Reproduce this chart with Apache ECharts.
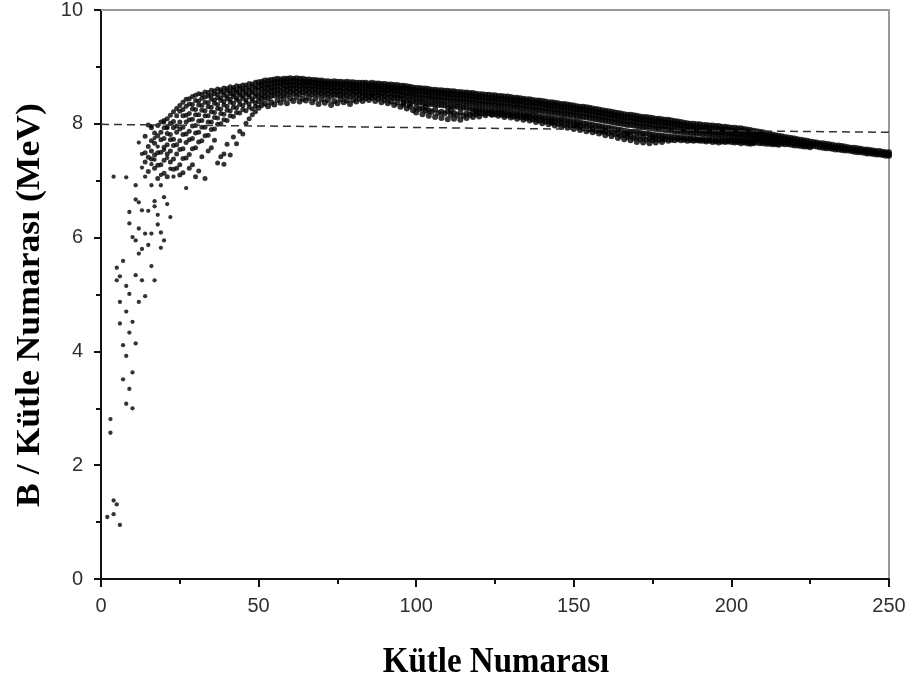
<!DOCTYPE html>
<html>
<head>
<meta charset="utf-8">
<script src="https://cdn.jsdelivr.net/npm/echarts@6/dist/echarts.min.js"></script>
<style>
html,body{margin:0;padding:0;background:#fff;}
#chart{width:913px;height:685px;}
</style>
</head>
<body>
<div id="chart"></div>
<script>
// ---- axis settings / labels ----
const xTicks = [0, 50, 100, 150, 200, 250];
const yTicks = [0, 2, 4, 6, 8, 10];
const xTitle = 'Kütle Numarası';
const yTitle = 'B / Kütle Numarası (MeV)';

// ---- dashed reference line (mass number, MeV) ----
const refLineA = [0, 250];
const refLineB = [7.99, 7.85];

// ---- lightest nuclei: [A, B/A] ----
const lightPoints = [
[2,1.09],[3,2.57],[3,2.81],[4,1.38],[5,1.31],[4,1.14],[6,0.95],[4,7.07],
[5,5.25],[5,5.47],[6,4.87],[6,4.49],[6,5.32],[7,5.59],[7,4.11],[7,3.51],
[8,7.06],[8,5.15],[8,4.70],[8,3.92],[8,3.08],[9,3.34],[10,3.00],
[9,5.01],[9,4.33],[9,6.25],[9,6.45],[10,6.01],[10,4.52],[10,3.63],
[11,6.92],[11,6.67],[11,5.95],[11,5.34],[11,4.14],[12,6.62],[12,6.16],[12,5.72],[12,4.87],[12,7.67],
[13,6.48],[13,5.80],[13,5.25],[13,7.47],[13,7.23],[14,6.07],[14,4.97],[14,7.07],
[15,6.47],[15,5.87],[16,6.92],[16,6.07],[16,5.50],[16,7.29],[16,7.96],
[17,6.64],[17,6.55],[17,5.25],[17,7.37],[17,7.75],[18,6.40],[18,6.23],[18,7.60],
[19,6.92],[19,6.09],[19,5.82],[19,7.10],[20,8.02],[20,6.71],[20,5.95],[20,7.54],
[21,6.59],[21,7.40],[21,7.92],[22,6.36],[22,7.21],[23,7.07],[27,6.87]
];

// ---- rows: [A, B/A values...] ----
const cloudRows = [
[14,7.78,7.49,7.33],
[15,7.98,7.60,7.41,7.16],
[16,7.93,7.70,7.52,7.38],
[17,7.84,7.66,7.45,7.22],
[18,7.97,7.79,7.49,7.27,7.04],
[19,8.03,7.85,7.72,7.50,7.28],
[20,8.06,7.93,7.74,7.59,7.36,7.13],
[21,8.09,7.95,7.83,7.63,7.47,7.07],
[22,8.15,8.01,7.81,7.72,7.52,7.33],
[23,8.21,8.04,7.93,7.73,7.62,7.38,7.20],
[24,8.27,8.14,7.96,7.85,7.63,7.47,7.22],
[25,8.32,8.22,8.03,7.91,7.70,7.55,7.28,7.10],
[26,8.38,8.25,8.14,7.94,7.81,7.56,7.39,7.14],
[27,8.43,8.31,8.15,8.03,7.82,7.67,7.40],
[28,8.44,8.35,8.18,8.07,7.87,7.72,7.46,7.22],
[29,8.48,8.34,8.26,8.08,7.96,7.74,7.56,7.28],
[30,8.50,8.41,8.25,8.16,7.97,7.84,7.58,7.07],
[31,8.53,8.40,8.33,8.16,8.05,7.85,7.68,7.17],
[32,8.52,8.45,8.32,8.24,8.06,7.94,7.70,7.42],
[33,8.56,8.47,8.38,8.23,8.14,7.94,7.79,7.04],
[34,8.55,8.49,8.37,8.30,8.14,8.03,7.80,7.52],
[35,8.59,8.50,8.43,8.29,8.21,8.03,7.90,7.58],
[36,8.58,8.53,8.42,8.36,8.20,8.11,7.91,7.71],
[37,8.61,8.52,8.46,8.34,8.27,8.10,7.99,7.31],
[38,8.60,8.56,8.46,8.41,8.26,8.18,8.00,7.42],
[39,8.63,8.55,8.50,8.39,8.33,8.17,8.07,7.47,7.29],
[40,8.62,8.58,8.49,8.44,8.31,8.24,8.06,7.64],
[41,8.65,8.57,8.53,8.43,8.38,8.23,8.14,7.45],
[42,8.64,8.60,8.52,8.48,8.36,8.29,8.13,7.77],
[43,8.67,8.59,8.55,8.46,8.42,8.28,8.20,7.65],
[44,8.66,8.62,8.54,8.50,8.40,8.34,8.19,7.87],
[45,8.68,8.61,8.57,8.49,8.45,8.32,8.25,7.82],
[46,8.68,8.64,8.56,8.52,8.42,8.38,8.23,8.01],
[47,8.71,8.63,8.59,8.51,8.47,8.35,8.29,8.09],
[48,8.70,8.66,8.58,8.54,8.44,8.40,8.26,8.16],
[49,8.73,8.65,8.61,8.53,8.48,8.37,8.31,8.21]
];

const band50to99 = [
[50,8.73,8.66,8.58,8.49,8.40,8.28],[51,8.74,8.68,8.61,8.52,8.44,8.33],
[52,8.76,8.70,8.62,8.55,8.47,8.36],[53,8.76,8.69,8.63,8.54,8.45,8.31],
[54,8.77,8.71,8.64,8.57,8.49,8.38],[55,8.78,8.72,8.65,8.58,8.50,8.34],
[56,8.79,8.73,8.67,8.59,8.52,8.42],[57,8.78,8.72,8.66,8.58,8.49,8.37],
[58,8.79,8.74,8.68,8.61,8.53,8.44],[59,8.79,8.73,8.67,8.60,8.51,8.36],
[60,8.80,8.74,8.68,8.62,8.55,8.45],[61,8.79,8.74,8.68,8.61,8.53,8.40],
[62,8.80,8.75,8.69,8.63,8.56,8.47],[63,8.79,8.73,8.67,8.60,8.52,8.39],
[64,8.79,8.74,8.68,8.62,8.55,8.44],[65,8.78,8.73,8.67,8.61,8.53,8.41],
[66,8.78,8.73,8.68,8.62,8.55,8.46],[67,8.77,8.72,8.66,8.60,8.52,8.38],
[68,8.77,8.72,8.67,8.61,8.54,8.44],[69,8.76,8.71,8.65,8.59,8.51,8.35],
[70,8.76,8.71,8.66,8.60,8.53,8.43],[71,8.75,8.70,8.64,8.58,8.50,8.37],
[72,8.75,8.70,8.65,8.59,8.52,8.42],[73,8.74,8.69,8.63,8.57,8.49,8.33],
[74,8.75,8.70,8.64,8.58,8.51,8.40],[75,8.74,8.69,8.63,8.57,8.50,8.36],
[76,8.74,8.69,8.64,8.58,8.51,8.43],[77,8.73,8.68,8.62,8.56,8.49,8.38],
[78,8.74,8.69,8.63,8.57,8.50,8.41],[79,8.73,8.68,8.62,8.56,8.48,8.35],
[80,8.73,8.68,8.63,8.57,8.51,8.42],[81,8.72,8.67,8.62,8.56,8.49,8.39],
[82,8.72,8.67,8.62,8.57,8.51,8.44],[83,8.72,8.67,8.61,8.55,8.48,8.40],
[84,8.72,8.67,8.62,8.56,8.50,8.45],[85,8.71,8.66,8.61,8.55,8.49,8.42],
[86,8.72,8.67,8.62,8.56,8.51,8.46],[87,8.71,8.66,8.61,8.55,8.48,8.40],
[88,8.71,8.66,8.61,8.56,8.50,8.44],[89,8.70,8.65,8.60,8.54,8.47,8.38],
[90,8.70,8.65,8.60,8.55,8.49,8.42],[91,8.69,8.64,8.59,8.53,8.46,8.36],
[92,8.69,8.64,8.59,8.54,8.47,8.39],[93,8.68,8.63,8.58,8.52,8.45,8.33],
[94,8.68,8.63,8.58,8.52,8.46,8.37],[95,8.67,8.62,8.57,8.51,8.44,8.30],
[96,8.67,8.62,8.56,8.50,8.43,8.34],[97,8.66,8.61,8.55,8.49,8.41,8.27],
[98,8.65,8.60,8.55,8.49,8.42,8.31],[99,8.64,8.59,8.53,8.47,8.39,8.24]
];

const band100to149 = [
[100,8.63,8.58,8.52,8.46,8.38,8.20],[101,8.63,8.58,8.52,8.45,8.37,8.26],
[102,8.62,8.57,8.51,8.45,8.37,8.17],[103,8.62,8.57,8.51,8.44,8.36,8.23],
[104,8.61,8.56,8.50,8.44,8.35,8.14],[105,8.60,8.55,8.49,8.43,8.35,8.21],
[106,8.60,8.55,8.49,8.42,8.34,8.12],[107,8.59,8.54,8.48,8.42,8.33,8.19],
[108,8.59,8.54,8.48,8.41,8.33,8.10],[109,8.58,8.53,8.47,8.40,8.32,8.18],
[110,8.58,8.53,8.47,8.40,8.31,8.08],[111,8.57,8.52,8.46,8.39,8.31,8.16],
[112,8.57,8.52,8.46,8.39,8.30,8.09],[113,8.56,8.51,8.45,8.38,8.30,8.15],
[114,8.56,8.51,8.45,8.38,8.29,8.07],[115,8.55,8.50,8.44,8.37,8.28,8.14],
[116,8.55,8.50,8.44,8.37,8.28,8.10],[117,8.54,8.49,8.43,8.36,8.27,8.16],
[118,8.54,8.49,8.43,8.36,8.27,8.12],[119,8.53,8.48,8.42,8.35,8.26,8.17],
[120,8.52,8.47,8.41,8.34,8.25,8.13],[121,8.52,8.47,8.41,8.34,8.25,8.18],
[122,8.51,8.46,8.40,8.33,8.24,8.15],[123,8.51,8.46,8.40,8.33,8.24,8.19],
[124,8.50,8.45,8.39,8.32,8.23,8.16],[125,8.50,8.45,8.39,8.32,8.23,8.17],
[126,8.49,8.44,8.38,8.31,8.22,8.14],[127,8.49,8.44,8.38,8.31,8.22,8.16],
[128,8.48,8.43,8.37,8.30,8.21,8.12],[129,8.48,8.43,8.37,8.30,8.21,8.15],
[130,8.47,8.42,8.36,8.29,8.20,8.11],[131,8.46,8.41,8.35,8.28,8.19,8.13],
[132,8.46,8.41,8.35,8.28,8.19,8.09],[133,8.45,8.40,8.34,8.27,8.18,8.12],
[134,8.44,8.39,8.33,8.26,8.17,8.07],[135,8.43,8.38,8.32,8.25,8.16,8.10],
[136,8.43,8.38,8.32,8.25,8.16,8.06],[137,8.42,8.37,8.31,8.24,8.15,8.08],
[138,8.41,8.36,8.30,8.23,8.14,8.03],[139,8.41,8.36,8.30,8.23,8.13,8.06],
[140,8.40,8.35,8.29,8.22,8.12,8.01],[141,8.39,8.34,8.28,8.21,8.11,8.04],
[142,8.38,8.33,8.27,8.20,8.10,7.99],[143,8.38,8.33,8.27,8.20,8.10,8.02],
[144,8.37,8.32,8.26,8.19,8.09,7.97],[145,8.36,8.31,8.25,8.18,8.08,8.00],
[146,8.35,8.30,8.24,8.17,8.07,7.95],[147,8.35,8.30,8.24,8.17,8.07,7.98],
[148,8.34,8.29,8.23,8.16,8.06,7.93],[149,8.33,8.28,8.22,8.15,8.05,7.96]
];

const band150to199 = [
[150,8.32,8.27,8.21,8.14,8.04,7.91],[151,8.31,8.26,8.20,8.13,8.03,7.94],
[152,8.30,8.25,8.19,8.12,8.02,7.89],[153,8.30,8.25,8.19,8.12,8.01,7.92],
[154,8.29,8.24,8.18,8.11,8.00,7.87],[155,8.28,8.23,8.17,8.10,7.99,7.90],
[156,8.27,8.22,8.16,8.09,7.98,7.85],[157,8.26,8.21,8.15,8.08,7.97,7.88],
[158,8.25,8.20,8.14,8.07,7.96,7.83],[159,8.24,8.19,8.13,8.06,7.95,7.86],
[160,8.23,8.18,8.12,8.05,7.94,7.80],[161,8.22,8.17,8.11,8.04,7.93,7.84],
[162,8.21,8.16,8.10,8.03,7.92,7.78],[163,8.20,8.15,8.09,8.02,7.91,7.82],
[164,8.19,8.14,8.08,8.01,7.90,7.75],[165,8.18,8.13,8.07,8.00,7.89,7.79],
[166,8.17,8.12,8.06,7.99,7.88,7.73],[167,8.16,8.11,8.05,7.98,7.87,7.77],
[168,8.16,8.11,8.05,7.98,7.86,7.71],[169,8.15,8.10,8.04,7.97,7.86,7.75],
[170,8.14,8.09,8.03,7.96,7.85,7.68],[171,8.13,8.08,8.02,7.95,7.84,7.73],
[172,8.12,8.07,8.01,7.94,7.83,7.67],[173,8.12,8.07,8.01,7.94,7.83,7.72],
[174,8.11,8.06,8.00,7.93,7.82,7.66],[175,8.10,8.05,7.99,7.92,7.81,7.71],
[176,8.09,8.04,7.98,7.91,7.80,7.67],[177,8.09,8.04,7.98,7.91,7.80,7.72],
[178,8.08,8.03,7.97,7.90,7.79,7.68],[179,8.07,8.02,7.96,7.89,7.78,7.73],
[180,8.07,8.02,7.96,7.89,7.78,7.70],[181,8.06,8.01,7.95,7.88,7.77,7.72],
[182,8.05,8.00,7.94,7.87,7.77,7.71],[183,8.04,7.99,7.93,7.86,7.76,7.73],
[184,8.03,7.98,7.92,7.86,7.76,7.71],[185,8.02,7.97,7.91,7.85,7.75,7.72],
[186,8.01,7.96,7.91,7.85,7.75,7.70],[187,8.00,7.95,7.90,7.84,7.74,7.71],
[188,8.00,7.95,7.90,7.84,7.74,7.70],[189,7.99,7.94,7.89,7.83,7.73,7.71],
[190,7.99,7.94,7.89,7.83,7.73,7.70],[191,7.98,7.93,7.88,7.82,7.73,7.70],
[192,7.98,7.93,7.88,7.82,7.72,7.69],[193,7.97,7.92,7.87,7.81,7.72,7.70],
[194,7.97,7.92,7.87,7.81,7.72,7.68],[195,7.96,7.91,7.86,7.80,7.71,7.69],
[196,7.96,7.91,7.86,7.80,7.71,7.67],[197,7.95,7.90,7.85,7.79,7.71,7.69],
[198,7.95,7.90,7.85,7.79,7.70,7.68],[199,7.94,7.89,7.84,7.78,7.70,7.69]
];

const band200to250 = [
[200,7.93,7.88,7.83,7.77,7.71,7.68],[201,7.93,7.88,7.83,7.77,7.70,7.67],
[202,7.92,7.87,7.82,7.76,7.70,7.68],[203,7.92,7.87,7.82,7.76,7.70,7.66],
[204,7.91,7.86,7.81,7.75,7.69,7.67],[205,7.90,7.85,7.80,7.75,7.69,7.66],
[206,7.89,7.84,7.79,7.74,7.68,7.65],[207,7.88,7.83,7.78,7.73,7.68,7.66],
[208,7.87,7.82,7.77,7.72,7.67],[209,7.86,7.81,7.76,7.71,7.66],
[210,7.85,7.80,7.75,7.70,7.66],[211,7.83,7.79,7.74,7.69,7.65],
[212,7.82,7.78,7.73,7.68,7.65],[213,7.81,7.77,7.72,7.67,7.64],
[214,7.80,7.76,7.71,7.67,7.64],[215,7.79,7.75,7.70,7.66,7.63],
[216,7.78,7.74,7.69,7.65],[217,7.77,7.73,7.68,7.64],
[218,7.76,7.72,7.67,7.64],[219,7.75,7.71,7.67,7.63],
[220,7.74,7.70,7.66,7.62],[221,7.73,7.69,7.65,7.62],
[222,7.72,7.68,7.64,7.61],[223,7.71,7.67,7.63,7.60],
[224,7.70,7.66,7.62,7.60],[225,7.69,7.65,7.62,7.59],
[226,7.68,7.64,7.61],[227,7.67,7.64,7.60],[228,7.66,7.63,7.59],
[229,7.66,7.62,7.58],[230,7.65,7.61,7.57],[231,7.64,7.60,7.57],
[232,7.63,7.59,7.56],[233,7.62,7.59,7.55],[234,7.62,7.58,7.55],
[235,7.61,7.57,7.54],[236,7.60,7.56,7.53],[237,7.59,7.56,7.53],
[238,7.58,7.55,7.52],[239,7.58,7.54,7.51],[240,7.57,7.53,7.50],
[241,7.56,7.53,7.50],[242,7.55,7.52,7.49],[243,7.55,7.51,7.48],
[244,7.54,7.51,7.48],[245,7.53,7.50,7.47],[246,7.52,7.49,7.46],
[247,7.52,7.48,7.46],[248,7.51,7.48,7.45],[249,7.50,7.47,7.44],
[250,7.50,7.46,7.44]
];

// ---- extra nuclides in the lower part of the band: [A, B/A] ----
const bandLowerPoints = [
[96,8.37],[98,8.35],[100,8.29],[102,8.27],[103,8.30],[104,8.24],[106,8.25],[108,8.21],
[110,8.22],[111,8.24],[112,8.19],[114,8.20],[116,8.18],[118,8.20],[119,8.21],[120,8.19],
[122,8.19],[124,8.17],[126,8.18],[127,8.19],[128,8.16],[130,8.15],[132,8.14],[134,8.12],
[135,8.13],[136,8.11],[138,8.09],[140,8.07],[142,8.05],[143,8.04],[144,8.03],[146,8.02],
[148,8.00],[150,7.97],[151,7.98],[152,7.96],[154,7.94],[156,7.91],[158,7.90],[159,7.89],
[160,7.87],[162,7.86],[164,7.83],[166,7.81],[167,7.82],[168,7.79],[170,7.77],[172,7.76],
[174,7.74],[175,7.76],[176,7.74],[178,7.73]
];

// ---- build scatter data from the rows ----
function rowsToPoints(groups) {
  const out = [];
  groups.forEach(rows => rows.forEach(r => {
    for (let i = 1; i < r.length; i++) out.push([r[0], r[i]]);
  }));
  return out;
}
const scatterCloud = rowsToPoints([cloudRows]);
const scatterBand = rowsToPoints([band50to99, band100to149, band150to199, band200to250]).concat(bandLowerPoints);

const chart = echarts.init(document.getElementById('chart'), null, {renderer: 'canvas'});

const tickFont = {color: '#2f2f2f', fontSize: 20, fontFamily: '"Liberation Sans", Arial, sans-serif'};
const titleFont = '"Liberation Serif", "Times New Roman", serif';

function dots(data, size) {
  return {
    type: 'scatter', xAxisIndex: 0, yAxisIndex: 0,
    data: data, symbol: 'circle', symbolSize: size,
    itemStyle: {color: '#000'}, silent: true, progressive: 0
  };
}

const lightSeries = dots(lightPoints, 4.3);
lightSeries.markLine = {
  silent: true,
  symbol: ['none', 'none'],
  label: {show: false},
  lineStyle: {color: '#333', width: 1.5, type: [8, 5]},
  data: [[{coord: [refLineA[0], refLineB[0]]}, {coord: [refLineA[1], refLineB[1]]}]]
};

chart.setOption({
  animation: false,
  backgroundColor: '#fff',
  grid: {left: 101, right: 24, top: 8, bottom: 106, containLabel: false},
  xAxis: [{
    type: 'value', min: xTicks[0], max: xTicks[xTicks.length - 1], interval: 50,
    position: 'bottom',
    axisLine: {show: true, onZero: false, lineStyle: {color: '#111', width: 2}},
    axisTick: {show: true, inside: false, length: 8, lineStyle: {color: '#111', width: 2}},
    minorTick: {show: true, splitNumber: 2, length: 5, lineStyle: {color: '#111', width: 2}},
    axisLabel: Object.assign({margin: 17}, tickFont),
    splitLine: {show: false}
  }, {
    type: 'value', min: xTicks[0], max: xTicks[xTicks.length - 1], position: 'top',
    axisLine: {show: true, onZero: false, lineStyle: {color: '#9a9a9a', width: 2}},
    axisTick: {show: false}, axisLabel: {show: false}, splitLine: {show: false}
  }],
  yAxis: [{
    type: 'value', min: yTicks[0], max: yTicks[yTicks.length - 1], interval: 2,
    position: 'left',
    axisLine: {show: true, onZero: false, lineStyle: {color: '#111', width: 2}},
    axisTick: {show: true, inside: false, length: 7, lineStyle: {color: '#111', width: 2}},
    minorTick: {show: true, splitNumber: 2, length: 5, lineStyle: {color: '#111', width: 2}},
    axisLabel: Object.assign({margin: 18}, tickFont),
    splitLine: {show: false}
  }, {
    type: 'value', min: yTicks[0], max: yTicks[yTicks.length - 1], position: 'right',
    axisLine: {show: true, onZero: false, lineStyle: {color: '#9a9a9a', width: 2}},
    axisTick: {show: false}, axisLabel: {show: false}, splitLine: {show: false}
  }],
  series: [lightSeries, dots(scatterCloud, 5), dots(scatterBand, 6)],
  graphic: [{
    type: 'text',
    x: 496, y: 663, scaleY: 1.08,
    style: {
      text: xTitle, fill: '#000',
      fontSize: 33, fontWeight: 'bold', fontFamily: titleFont,
      textAlign: 'center', textVerticalAlign: 'middle'
    }
  }, {
    type: 'text',
    x: 30, y: 305, rotation: Math.PI / 2, scaleX: 1.08,
    style: {
      text: yTitle, fill: '#000',
      fontSize: 33, fontWeight: 'bold', fontFamily: titleFont,
      textAlign: 'center', textVerticalAlign: 'middle'
    }
  }]
});
</script>
</body>
</html>
